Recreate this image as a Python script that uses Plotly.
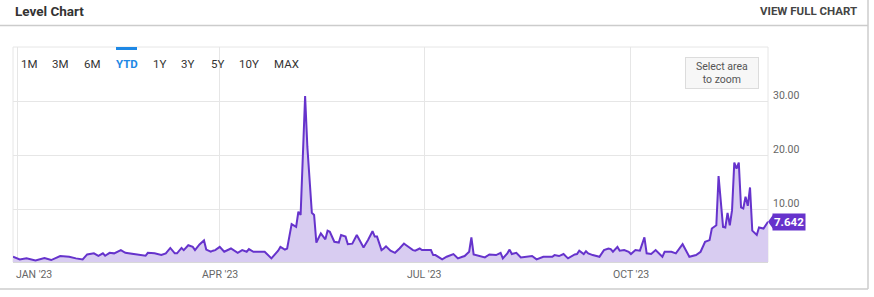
import plotly.graph_objects as go

# ---------------- data ----------------
dates = [
    "2022-12-30", "2023-01-02", "2023-01-05", "2023-01-09", "2023-01-13", "2023-01-16",
    "2023-01-20", "2023-01-24", "2023-01-27", "2023-01-30", "2023-02-01", "2023-02-04",
    "2023-02-06", "2023-02-08", "2023-02-09", "2023-02-11", "2023-02-13", "2023-02-16",
    "2023-02-18", "2023-02-22", "2023-02-25", "2023-02-27", "2023-02-28", "2023-03-03",
    "2023-03-06", "2023-03-08", "2023-03-10", "2023-03-12", "2023-03-13", "2023-03-15",
    "2023-03-16", "2023-03-18", "2023-03-20", "2023-03-21", "2023-03-23", "2023-03-25",
    "2023-03-26", "2023-03-28", "2023-03-29", "2023-03-30", "2023-04-01", "2023-04-03",
    "2023-04-06", "2023-04-09", "2023-04-11", "2023-04-13", "2023-04-14", "2023-04-16",
    "2023-04-21", "2023-04-24", "2023-04-27", "2023-04-28", "2023-04-30", "2023-05-01",
    "2023-05-03", "2023-05-04", "2023-05-05", "2023-05-06", "2023-05-07", "2023-05-09",
    "2023-05-10", "2023-05-12", "2023-05-13", "2023-05-14", "2023-05-16", "2023-05-18",
    "2023-05-19", "2023-05-20", "2023-05-22", "2023-05-24", "2023-05-25", "2023-05-27",
    "2023-05-28", "2023-05-30", "2023-06-01", "2023-06-04", "2023-06-06", "2023-06-08",
    "2023-06-09", "2023-06-10", "2023-06-12", "2023-06-13", "2023-06-14", "2023-06-16",
    "2023-06-18", "2023-06-20", "2023-06-22", "2023-06-23", "2023-06-26", "2023-06-27",
    "2023-06-29", "2023-06-30", "2023-07-04", "2023-07-05", "2023-07-06", "2023-07-09",
    "2023-07-11", "2023-07-14", "2023-07-16", "2023-07-18", "2023-07-19", "2023-07-21",
    "2023-07-22", "2023-07-23", "2023-07-26", "2023-07-28", "2023-07-30", "2023-08-02",
    "2023-08-04", "2023-08-05", "2023-08-07", "2023-08-08", "2023-08-09", "2023-08-11",
    "2023-08-13", "2023-08-17", "2023-08-18", "2023-08-20", "2023-08-23", "2023-08-27",
    "2023-08-28", "2023-08-30", "2023-09-01", "2023-09-03", "2023-09-06", "2023-09-07",
    "2023-09-08", "2023-09-10", "2023-09-11", "2023-09-12", "2023-09-14", "2023-09-17",
    "2023-09-19", "2023-09-21", "2023-09-22", "2023-09-23", "2023-09-25", "2023-09-26",
    "2023-09-28", "2023-09-30", "2023-10-01", "2023-10-03", "2023-10-05", "2023-10-07",
    "2023-10-08", "2023-10-10", "2023-10-12", "2023-10-15", "2023-10-16", "2023-10-19",
    "2023-10-21", "2023-10-24", "2023-10-27", "2023-10-30", "2023-11-01", "2023-11-03",
    "2023-11-05", "2023-11-06", "2023-11-08", "2023-11-09", "2023-11-11", "2023-11-12",
    "2023-11-13", "2023-11-14", "2023-11-15", "2023-11-16", "2023-11-17", "2023-11-18",
    "2023-11-19", "2023-11-20", "2023-11-21", "2023-11-22", "2023-11-23", "2023-11-24",
    "2023-11-26", "2023-11-27", "2023-11-29", "2023-12-01",
]
levels = [
    1.17, 0.68, 0.87, 0.50, 0.93, 0.56,
    1.30, 1.17, 0.87, 0.68, 1.60, 1.80,
    1.35, 1.80, 1.35, 1.90, 1.80, 2.40,
    1.90, 1.60, 1.48, 1.35, 1.90, 1.80,
    1.50, 1.80, 2.80, 1.80, 1.80, 2.80,
    2.40, 3.30, 3.00, 2.40, 3.46, 4.20,
    2.50, 2.10, 2.30, 2.40, 3.00, 2.10,
    2.70, 1.90, 2.40, 2.10, 2.60, 2.10,
    2.10, 0.87, 2.30, 3.00, 2.50, 2.70,
    7.20, 7.00, 6.70, 9.50, 8.90, 30.90,
    21.50, 9.30, 8.90, 3.80, 5.50, 4.40,
    6.00, 5.80, 3.95, 3.80, 5.20, 4.90,
    3.50, 3.60, 5.20, 2.90, 4.26, 5.90,
    4.90, 4.90, 2.40, 2.70, 3.10, 2.30,
    1.90, 2.70, 3.60, 3.30, 2.40, 2.30,
    2.70, 2.40, 2.40, 1.48, 1.48, 0.68,
    1.17, 1.67, 0.87, 1.17, 1.30, 2.10,
    4.75, 1.60, 1.30, 1.05, 1.60, 1.48,
    1.90, 0.87, 1.80, 2.50, 1.67, 1.90,
    1.05, 1.17, 1.30, 0.68, 1.17, 1.17,
    1.48, 1.30, 1.67, 0.87, 1.60, 1.67,
    2.30, 1.67, 2.20, 1.80, 1.48, 1.17,
    2.40, 2.70, 2.60, 2.10, 3.00, 2.30,
    2.40, 2.10, 1.67, 2.40, 2.30, 4.75,
    1.80, 1.67, 2.40, 1.17, 2.10, 2.10,
    1.80, 3.50, 1.17, 1.48, 2.10, 3.95,
    4.26, 6.40, 7.00, 16.10, 6.70, 6.60,
    9.30, 7.00, 9.80, 18.60, 17.50, 18.60,
    10.30, 10.10, 12.30, 10.60, 14.00, 6.00,
    5.20, 6.60, 6.40, 7.642,
]

x_tick_dates = ["2023-01-01", "2023-04-01", "2023-07-01", "2023-10-01"]
x_tick_labels = ["JAN '23", "APR '23", "JUL '23", "OCT '23"]
y_tick_vals = [10, 20, 30]
y_tick_labels = ["10.00", "20.00", "30.00"]
range_buttons = ["1M", "3M", "6M", "YTD", "1Y", "3Y", "5Y", "10Y", "MAX"]
active_button = "YTD"

# ---------------- layout helpers ----------------
W, H = 874, 297
PL, PR, PT, PB = 13, 768, 47, 262  # plot area in pixels


def px(x):
    return (x - PL) / (PR - PL)


def py(y):
    return (PB - y) / (PB - PT)


LINE = "#6633cc"
FILL = "#d8ccf1"
GRID = "#e6e6e6"
TXT = "#666666"
FONT = "Roboto, 'Open Sans', sans-serif"

fig = go.Figure()
fig.add_trace(go.Scatter(
    x=dates, y=levels, mode="lines",
    line=dict(color=LINE, width=2),
    fill="tozeroy", fillcolor=FILL,
    hoverinfo="skip", showlegend=False,
))

annotations = []
shapes = []

# x tick labels
for i, (d, lab) in enumerate(zip(x_tick_dates, x_tick_labels)):
    annotations.append(dict(
        x=d, xref="x", y=py(274), yref="paper", text=lab, showarrow=False,
        xanchor="left" if i == 0 else "center", yanchor="middle",
        xshift=-3 if i == 0 else 0,
        font=dict(family=FONT, size=10.5, color=TXT),
    ))

# range selector buttons
btn_centers = [29, 60.5, 92.5, 126.5, 159.5, 187.5, 217, 249, 286.5]
for lab, cx in zip(range_buttons, btn_centers):
    active = lab == active_button
    annotations.append(dict(
        x=px(cx), xref="paper", y=py(64), yref="paper", text=f"<b>{lab}</b>" if active else lab,
        showarrow=False, xanchor="center", yanchor="middle",
        font=dict(family=FONT, size=11.5, color="#1e88e5" if active else "#333333"),
    ))
shapes.append(dict(type="rect", xref="paper", yref="paper",
                   x0=px(116), x1=px(137), y0=py(50), y1=py(47),
                   fillcolor="#1e88e5", line=dict(width=0), layer="above"))

# select area to zoom box
annotations.append(dict(
    x=px(721.5), xref="paper", y=py(72.5), yref="paper",
    text="Select area<br>to zoom", showarrow=False,
    xanchor="center", yanchor="middle", width=70, height=28,
    bgcolor="#f7f7f7", bordercolor="#dcdcdc", borderwidth=1,
    font=dict(family=FONT, size=10.5, color="#555555"),
))

# header
annotations.append(dict(
    x=px(13), xref="paper", y=py(11), yref="paper", text="<b>Level Chart</b>",
    showarrow=False, xanchor="left", yanchor="middle",
    font=dict(family=FONT, size=13.5, color="#333333"),
))
annotations.append(dict(
    x=px(859), xref="paper", y=py(11), yref="paper", text="<b>VIEW FULL CHART</b>",
    showarrow=False, xanchor="right", yanchor="middle",
    font=dict(family=FONT, size=11.5, color="#444444"),
))

# last value badge
annotations.append(dict(
    x=dates[-1], xref="x", y=levels[-1], yref="y",
    text=f"<b>{levels[-1]:.3f}</b>", showarrow=False,
    xanchor="left", yanchor="middle", xshift=4,
    bgcolor=LINE, borderpad=1,
    font=dict(family=FONT, size=11.5, color="white"),
))
shapes.append(dict(type="path", xref="paper", yref="y",
                   xsizemode="pixel", ysizemode="pixel",
                   xanchor=1, yanchor=levels[-1],
                   path="M 0 0 L 5 7 L 5 -7 Z",
                   fillcolor=LINE, line=dict(width=0), layer="above"))

# panel decorations
shapes += [
    dict(type="line", xref="paper", yref="paper", x0=px(0), x1=px(868), y0=py(25.5), y1=py(25.5),
         line=dict(color="#cccccc", width=1.5)),
    dict(type="line", xref="paper", yref="paper", x0=px(868), x1=px(868), y0=py(0), y1=py(289),
         line=dict(color="#cccccc", width=1.5)),
    dict(type="line", xref="paper", yref="paper", x0=px(0), x1=px(868), y0=py(289), y1=py(289),
         line=dict(color="#cccccc", width=1.5)),
    dict(type="rect", xref="paper", yref="paper", x0=0, x1=1, y0=0, y1=1,
         line=dict(color=GRID, width=1), layer="below"),
]

fig.update_layout(
    width=W, height=H,
    margin=dict(l=PL, r=W - PR, t=PT, b=H - PB, pad=0),
    paper_bgcolor="white", plot_bgcolor="white",
    font=dict(family=FONT, color=TXT),
    showlegend=False,
    annotations=annotations,
    shapes=shapes,
    xaxis=dict(
        type="date", range=["2022-12-30", "2023-12-01"],
        tickvals=x_tick_dates, showticklabels=False,
        showgrid=True, gridcolor=GRID, gridwidth=1,
        showline=True, linecolor="#d8d8d8", linewidth=1,
        zeroline=False, fixedrange=True,
    ),
    yaxis=dict(
        range=[0.2, 40], side="right",
        tickvals=y_tick_vals, ticktext=y_tick_labels,
        showgrid=True, gridcolor=GRID, gridwidth=1,
        zeroline=False, showline=False, ticks="",
        ticklabelshift=-6, ticklabelstandoff=4,
        tickfont=dict(family=FONT, size=10.5, color=TXT),
        fixedrange=True,
    ),
)

fig.write_html("out.html", config={"displayModeBar": False})
